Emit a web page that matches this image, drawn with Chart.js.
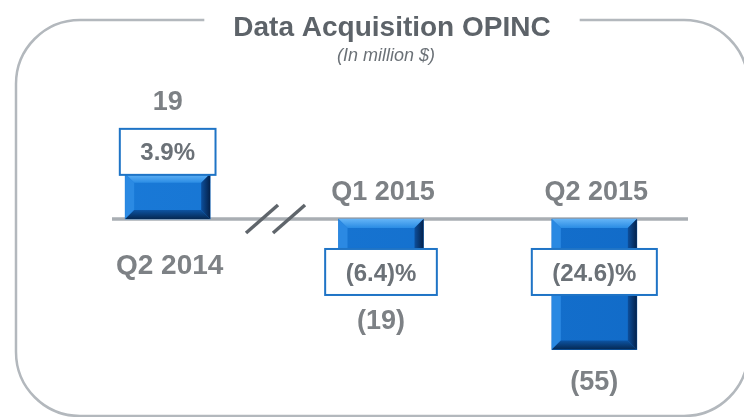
<!DOCTYPE html>
<html>
<head>
<meta charset="utf-8">
<script src="https://cdn.jsdelivr.net/npm/chart.js@4.4.1/dist/chart.umd.min.js"></script>
<style>
  html, body { margin: 0; padding: 0; background: #fff; }
  #wrap { width: 744px; height: 417px; position: relative; }
</style>
</head>
<body>
<div id="wrap"><canvas id="opincChart"></canvas></div>
<script>
// data (million $)
const quarters = ["Q2 2014", "Q1 2015", "Q2 2015"];
const opinc = [19, -19, -55];
const valueLabels = ["19", "(19)", "(55)"];
const marginLabels = ["3.9%", "(6.4)%", "(24.6)%"];

const TITLE = "Data Acquisition OPINC";
const SUBTITLE = "(In million $)";

const FONT = "'Liberation Sans', Arial, sans-serif";
const GRAY_TXT = "#7d8185";
const BOX_TXT = "#6b7177";
const FRAME = "#b3b8bd";

function roundRectPath(ctx, x, y, w, h, r) {
  ctx.beginPath();
  ctx.moveTo(x + r, y);
  ctx.lineTo(x + w - r, y);
  ctx.arcTo(x + w, y, x + w, y + r, r);
  ctx.lineTo(x + w, y + h - r);
  ctx.arcTo(x + w, y + h, x + w - r, y + h, r);
  ctx.lineTo(x + r, y + h);
  ctx.arcTo(x, y + h, x, y + h - r, r);
  ctx.lineTo(x, y + r);
  ctx.arcTo(x, y, x + r, y, r);
  ctx.closePath();
}

// frame, title, zero line, axis break
const framePlugin = {
  id: "frame",
  beforeDatasetsDraw(chart) {
    const ctx = chart.ctx;
    const yScale = chart.scales.y;
    const y0 = yScale.getPixelForValue(0);

    ctx.save();
    // title
    ctx.font = "bold 28px " + FONT;
    ctx.textAlign = "center";
    ctx.textBaseline = "middle";
    const tw = ctx.measureText(TITLE).width;
    const cx = 392;
    ctx.fillStyle = "#5d6369";
    ctx.fillText(TITLE, cx, 28);
    ctx.font = "italic 18px " + FONT;
    ctx.fillStyle = "#6b7177";
    ctx.fillText(SUBTITLE, cx - 6, 56);

    // rounded frame with gap for title
    ctx.save();
    ctx.beginPath();
    ctx.rect(0, 0, 744, 417);
    ctx.rect(cx + tw / 2 + 29, 0, -(tw + 58), 40);
    ctx.clip("evenodd");
    ctx.strokeStyle = FRAME;
    ctx.lineWidth = 2.5;
    roundRectPath(ctx, 16, 20, 732, 396, 64);
    ctx.stroke();
    ctx.restore();

    // zero line
    ctx.strokeStyle = "#a9aeb3";
    ctx.lineWidth = 3.5;
    ctx.beginPath();
    ctx.moveTo(112, y0);
    ctx.lineTo(688, y0);
    ctx.stroke();
    ctx.restore();
  },
  afterDatasetsDraw(chart) {
    const ctx = chart.ctx;
    const y0 = chart.scales.y.getPixelForValue(0);
    // axis break "//"
    ctx.save();
    ctx.strokeStyle = "#5f656b";
    ctx.lineWidth = 3.5;
    [[246, 278], [273, 305]].forEach(([a, b]) => {
      ctx.beginPath();
      ctx.moveTo(a, y0 + 14);
      ctx.lineTo(b, y0 - 14);
      ctx.stroke();
    });
    ctx.restore();
  }
};

// bevel on bars + labels/boxes
const barDeco = {
  id: "barDeco",
  afterDatasetsDraw(chart) {
    const ctx = chart.ctx;
    const meta = chart.getDatasetMeta(0);
    const y0 = chart.scales.y.getPixelForValue(0);
    ctx.save();
    meta.data.forEach((bar, i) => {
      const left = bar.x - bar.width / 2;
      const right = bar.x + bar.width / 2;
      const top = Math.min(bar.y, bar.base);
      const bottom = Math.max(bar.y, bar.base);
      const b = 9;
      const poly = (pts, color) => {
        ctx.beginPath();
        ctx.moveTo(pts[0][0], pts[0][1]);
        pts.slice(1).forEach(p => ctx.lineTo(p[0], p[1]));
        ctx.closePath();
        ctx.fillStyle = color;
        ctx.fill();
      };
      // top bevel
      let g = ctx.createLinearGradient(0, top, 0, top + b);
      g.addColorStop(0, "#64b4f7");
      g.addColorStop(1, "#2a8ce4");
      poly([[left, top], [right, top], [right - b, top + b], [left + b, top + b]], g);
      // left bevel
      poly([[left, top], [left + b, top + b], [left + b, bottom - b], [left, bottom]], "rgba(45,140,228,0.9)");
      // right bevel
      g = ctx.createLinearGradient(right - b, 0, right, 0);
      g.addColorStop(0, "#0d4f9c");
      g.addColorStop(1, "#04214a");
      poly([[right, top], [right, bottom], [right - b, bottom - b], [right - b, top + b]], g);
      // bottom bevel
      g = ctx.createLinearGradient(0, bottom - b, 0, bottom);
      g.addColorStop(0, "#0d54a3");
      g.addColorStop(1, "#052852");
      poly([[left, bottom], [right, bottom], [right - b, bottom - b], [left + b, bottom - b]], g);

      const v = opinc[i];
      ctx.textAlign = "center";
      ctx.textBaseline = "middle";

      // margin box
      ctx.font = "bold 24px " + FONT;
      const w = ctx.measureText(marginLabels[i]).width + 41;
      const h = 46;
      const boxTop = v >= 0 ? top - h + 1 : y0 + 30;
      ctx.fillStyle = "#ffffff";
      ctx.fillRect(bar.x - w / 2, boxTop, w, h);
      ctx.strokeStyle = "#1f74c6";
      ctx.lineWidth = 2;
      ctx.strokeRect(bar.x - w / 2, boxTop, w, h);
      ctx.fillStyle = BOX_TXT;
      ctx.fillText(marginLabels[i], bar.x, boxTop + h / 2 + 2);

      // value + category labels
      ctx.font = "bold 27px " + FONT;
      ctx.fillStyle = GRAY_TXT;
      if (v >= 0) {
        ctx.fillText(valueLabels[i], bar.x, boxTop - 26);
        ctx.font = "bold 28px " + FONT;
        ctx.fillText(quarters[i], bar.x + 2, y0 + 47);
      } else {
        const yl = Math.max(bottom + 33, boxTop + h + 27);
        ctx.fillText(valueLabels[i], bar.x, yl);
        ctx.fillText(quarters[i], bar.x + 2, y0 - 26);
      }
    });
    ctx.restore();
  }
};

new Chart(document.getElementById("opincChart"), {
  type: "bar",
  data: {
    labels: quarters,
    datasets: [{
      data: opinc,
      barThickness: 85,
      borderWidth: 0,
      backgroundColor: (c) => {
        const area = c.chart.chartArea;
        if (!area) return "#1570cc";
        const g = c.chart.ctx.createLinearGradient(0, 0, 744, 0);
        g.addColorStop(0, "#1b7cda");
        g.addColorStop(1, "#1069c6");
        return g;
      }
    }]
  },
  options: {
    responsive: true,
    maintainAspectRatio: false,
    animation: false,
    layout: { padding: { left: 61, right: 43, top: 20, bottom: 0 } },
    plugins: { legend: { display: false }, tooltip: { enabled: false } },
    scales: {
      x: { display: false, offset: true, grid: { display: false } },
      y: { display: false, min: -83.4, max: 83.8 }
    }
  },
  plugins: [framePlugin, barDeco]
});
</script>
</body>
</html>
